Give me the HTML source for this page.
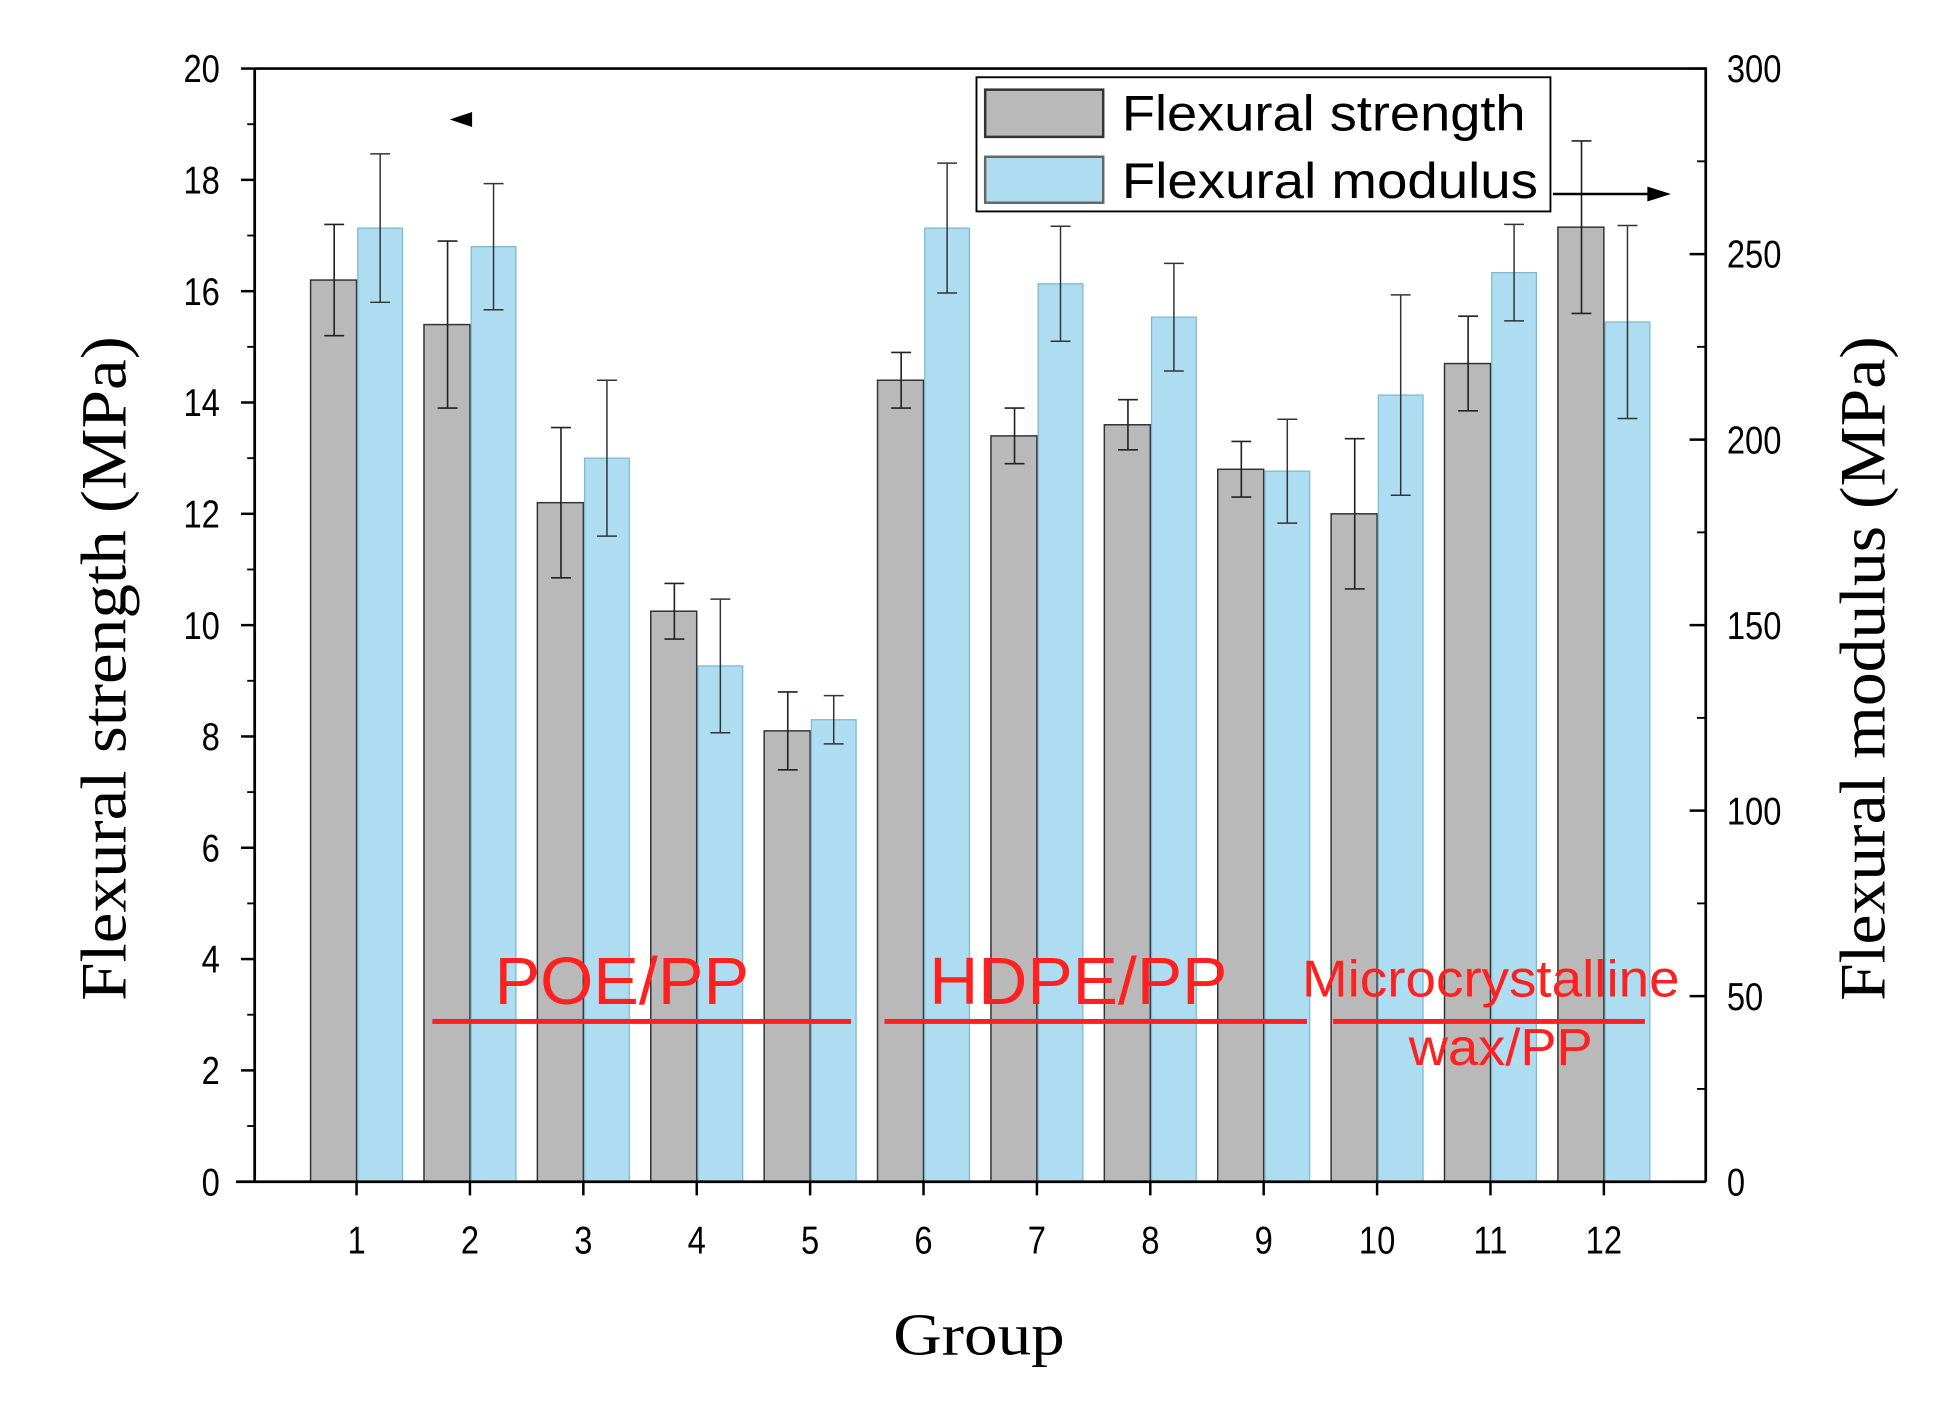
<!DOCTYPE html>
<html><head><meta charset="utf-8"><style>
html,body{margin:0;padding:0;background:#fff;}
svg{display:block;}
text{font-family:"Liberation Sans",sans-serif;}
</style></head><body>
<svg id="chart" width="1948" height="1413" viewBox="0 0 1568 1137" xmlns="http://www.w3.org/2000/svg">
<g id="g"></g>
</svg>
<script>
const groups = ["1","2","3","4","5","6","7","8","9","10","11","12"];
const strength = [16.2,15.4,12.2,10.25,8.1,14.4,13.4,13.6,12.8,12.0,14.7,17.15];
const strengthErr = [1.0,1.5,1.35,0.5,0.7,0.5,0.5,0.45,0.5,1.35,0.85,1.55];
const modulus = [257,252,195,139,124.5,257,242,233,191.5,212,245,231.7];
const modulusErr = [20,17,21,18,6.5,17.5,15.5,14.5,14,27,13,26];
const leftTicks = [0,2,4,6,8,10,12,14,16,18,20];
const rightTicks = [0,50,100,150,200,250,300];

const L=205,R=1373,T=55,B=951;
const yL=v=>B-(v/20)*(B-T);
const yR=v=>B-(v/300)*(B-T);
const xC=i=>287+i*(1291-287)/11;
const NS="http://www.w3.org/2000/svg";
const g=document.getElementById('g');
function mk(tag,attrs,parent,txt){const e=document.createElementNS(NS,tag);for(const k in attrs)e.setAttribute(k,attrs[k]);if(txt!==undefined)e.textContent=txt;(parent||g).appendChild(e);return e;}

groups.forEach((c,i)=>{
  const x=xC(i);
  let e=mk('rect',{x:x-37,y:yL(strength[i]),width:37,height:B-yL(strength[i]),fill:'#b9b9b9',stroke:'#333','stroke-width':1.2});
  
  
  e=mk('rect',{x:x+1,y:yR(modulus[i]),width:36,height:B-yR(modulus[i]),fill:'#aedcf0',stroke:'#7bb8d4','stroke-width':1});
  
  
  const xs=x-18, y1=yL(strength[i]+strengthErr[i]), y2=yL(strength[i]-strengthErr[i]);
  e=mk('path',{d:`M${xs} ${y1}V${y2}M${xs-8} ${y1}H${xs+8}M${xs-8} ${y2}H${xs+8}`,stroke:'#222','stroke-width':1.3,fill:'none'});
  
  
  const xb=x+19, z1=yR(modulus[i]+modulusErr[i]), z2=yR(modulus[i]-modulusErr[i]);
  e=mk('path',{d:`M${xb} ${z1}V${z2}M${xb-8} ${z1}H${xb+8}M${xb-8} ${z2}H${xb+8}`,stroke:'#333','stroke-width':1.2,fill:'none'});
  
  
  e=mk('line',{x1:x,y1:B,x2:x,y2:B+11,stroke:'#000','stroke-width':2});
  
  
  e=mk('text',{x:x,y:B+58,'text-anchor':'middle','font-size':31,transform:`translate(${x} ${B+58}) scale(0.85 1) translate(${-x} ${-(B+58)})`},undefined,c);
  
  
});

let a=mk('path',{d:`M${L} ${T}H${R}V${B}M${L} ${T}V${B}M190 ${B}H${R}`,stroke:'#000','stroke-width':2.2,fill:'none'});


leftTicks.forEach((v,i)=>{
  const y=yL(v);
  mk('line',{x1:L-11,y1:y,x2:L,y2:y,stroke:'#000','stroke-width':2});
  if(i<leftTicks.length-1){const ym=yL(v+1);mk('line',{x1:L-6,y1:ym,x2:L,y2:ym,stroke:'#000','stroke-width':1.5});}
  const t=mk('text',{x:L-28,y:y+11,'text-anchor':'end','font-size':31,transform:`translate(${L-28} ${y}) scale(0.85 1) translate(${-(L-28)} ${-y})`},undefined,String(v));
  
  
});
rightTicks.forEach((v,i)=>{
  const y=yR(v);
  mk('line',{x1:R-13,y1:y,x2:R,y2:y,stroke:'#000','stroke-width':2});
  if(i<rightTicks.length-1){const ym=yR(v+25);mk('line',{x1:R-7,y1:ym,x2:R,y2:ym,stroke:'#000','stroke-width':1.5});}
  const t=mk('text',{x:R+17,y:y+11,'text-anchor':'start','font-size':31,transform:`translate(${R+17} ${y}) scale(0.85 1) translate(${-(R+17)} ${-y})`},undefined,String(v));
  
  
});
</script>
<script>
const g2=document.getElementById('g');
g2.insertAdjacentHTML('beforeend',`
<text transform="translate(101,538) rotate(-90)" text-anchor="middle" font-size="52" textLength="535" lengthAdjust="spacingAndGlyphs" style="font-family:'Liberation Serif',serif">Flexural strength (MPa)</text>
<text transform="translate(1517,538) rotate(-90)" text-anchor="middle" font-size="52" textLength="535" lengthAdjust="spacingAndGlyphs" style="font-family:'Liberation Serif',serif">Flexural modulus (MPa)</text>
<text x="788" y="1090" text-anchor="middle" font-size="48" textLength="138" lengthAdjust="spacingAndGlyphs" style="font-family:'Liberation Serif',serif">Group</text>
<g>
<rect x="786" y="62" width="462" height="108" fill="#fff" stroke="#000" stroke-width="1.5"/>
<rect x="793" y="72" width="95" height="38" fill="#b9b9b9" stroke="#333" stroke-width="2"/>
<text x="903" y="105" font-size="40" textLength="325" lengthAdjust="spacingAndGlyphs">Flexural strength</text>
<rect x="793" y="126" width="95" height="37" fill="#aedcf0" stroke="#666" stroke-width="2"/>
<text x="903" y="159" font-size="40" textLength="335" lengthAdjust="spacingAndGlyphs">Flexural modulus</text>
</g>
<path d="M362 96 L380 90 L380 102 Z" fill="#000"/>
<path d="M1250 156 H1330" stroke="#000" stroke-width="2"/>
<path d="M1345 156 L1326 150 L1326 162 Z" fill="#000"/>
<g fill="#ff2020">
<rect x="348" y="820" width="337" height="4"/>
<rect x="712" y="820" width="340" height="4"/>
<rect x="1073" y="820" width="251" height="4"/>
<text x="398" y="808" font-size="54" textLength="205" lengthAdjust="spacingAndGlyphs">POE/PP</text>
<text x="748" y="808" font-size="54" textLength="240" lengthAdjust="spacingAndGlyphs">HDPE/PP</text>
<text x="1048" y="802" font-size="42" textLength="304" lengthAdjust="spacingAndGlyphs">Microcrystalline</text>
<text x="1134" y="857" font-size="42" textLength="148" lengthAdjust="spacingAndGlyphs">wax/PP</text>
</g>`);
</script>
</body></html>
